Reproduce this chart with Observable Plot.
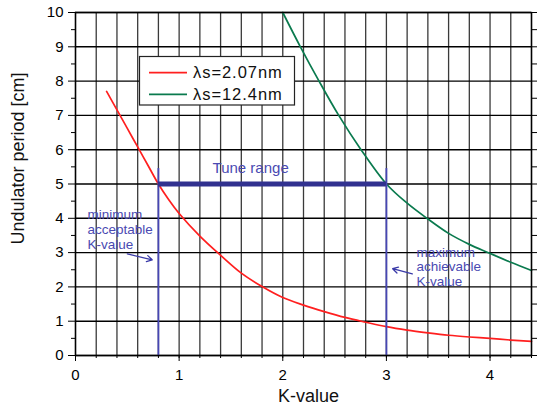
<!DOCTYPE html>
<html><head><meta charset="utf-8">
<script src="https://cdn.jsdelivr.net/npm/d3@7"></script>
<script src="https://cdn.jsdelivr.net/npm/@observablehq/plot@0.6"></script>
<style>
body{margin:0;background:#fff;}
svg{font-family:"Liberation Sans",Arial,Helvetica,sans-serif;}
</style>
</head><body><div id="chart"></div>
<script>
// ---- data ----
const redK = [0.3,0.4,0.5,0.6,0.7,0.8,0.9,1.0,1.2,1.4,1.6,1.8,2.0,2.2,2.4,2.6,2.8,3.0,3.2,3.4,3.6,3.8,4.0,4.2,4.4];
const redPeriod = [7.7,7.16,6.62,6.08,5.54,5.0,4.54,4.14,3.48,2.92,2.40,2.01,1.69,1.47,1.28,1.11,0.97,0.84,0.74,0.66,0.59,0.54,0.50,0.45,0.41];
const greenK = [2.0,2.17,2.35,2.54,2.755,3.0,3.2,3.4,3.6,3.8,3.99,4.2,4.4];
const greenPeriod = [10.0,9.0,8.0,7.0,6.0,5.0,4.44,3.98,3.56,3.24,2.99,2.72,2.48];
const seriesNames = ["\u03bbs=2.07nm","\u03bbs=12.4nm"];
const seriesColors = ["#ff1f1f","#0a7a4e"];

const xMajorTicks = [0,1,2,3,4];
const xMinorTicks = [0,0.2,0.4,0.6,0.8,1,1.2,1.4,1.6,1.8,2,2.2,2.4,2.6,2.8,3,3.2,3.4,3.6,3.8,4,4.2,4.4];
const yMajorTicks = [0,1,2,3,4,5,6,7,8,9,10];
const yMinorTicks = [0.5,1.5,2.5,3.5,4.5,5.5,6.5,7.5,8.5,9.5];
const yRightTicks = [0,0.5,1,1.5,2,2.5,3,3.5,4,4.5,5,5.5,6,6.5,7,7.5,8,8.5,9,9.5,10];

// tune range annotation
const tuneK = [0.8, 3.0];
const tunePeriod = 5;
const markerTop = 5.45;
const tuneLabel = {k: 1.69, v: 5.45, text: "Tune range"};
const notes = [
  {k: 0.115, v: 4.28, text: "minimum\nacceptable\nK-value"},
  {k: 3.29, v: 3.19, text: "maximum\nachievable\nK-value"}
];
const arrows = [
  {k1: 0.50, v1: 2.96, k2: 0.74, v2: 2.79},
  {k1: 3.25, v1: 2.38, k2: 3.06, v2: 2.53}
];

const red = redK.map((k,i)=>({k, v: redPeriod[i]}));
const green = greenK.map((k,i)=>({k, v: greenPeriod[i]}));
const blank = () => "";
const annColor = "#4a4ab2";

const plot = Plot.plot({
  width: 539, height: 406,
  marginLeft: 75, marginRight: 8, marginTop: 12, marginBottom: 51,
  x: {domain: [0, 4.4]},
  y: {domain: [0, 10]},
  style: {fontFamily: '"Liberation Sans", Arial, sans-serif', fontSize: "15px", background: "white", color: "black"},
  marks: [
    Plot.gridX(xMinorTicks, {stroke: "#3a3a3a", strokeOpacity: 1, strokeWidth: 1.3}),
    Plot.gridY(yMajorTicks, {stroke: "#000", strokeOpacity: 1, strokeWidth: 1.4}),
    Plot.axisX({ticks: xMajorTicks, tickSize: 6, tickPadding: 8, fontSize: 15, label: null, tickFormat: d => String(d)}),
    Plot.axisX({ticks: xMinorTicks, tickSize: 3, label: null, tickFormat: blank}),
    Plot.axisY({ticks: yMajorTicks, tickSize: 7, tickPadding: 5, fontSize: 15, label: null, tickFormat: d => String(d)}),
    Plot.axisY({ticks: yMinorTicks, tickSize: 4, label: null, tickFormat: blank}),
    Plot.axisY({anchor: "right", ticks: yRightTicks, tickSize: 5, label: null, tickFormat: blank}),
    Plot.line(red, {x: "k", y: "v", stroke: seriesColors[0], strokeWidth: 1.7, curve: "catmull-rom"}),
    Plot.line(green, {x: "k", y: "v", stroke: seriesColors[1], strokeWidth: 1.7, curve: "catmull-rom"}),
    Plot.ruleX(tuneK, {y1: 0, y2: markerTop, stroke: "#4646b4", strokeWidth: 1.8}),
    Plot.ruleY([tunePeriod], {x1: tuneK[0], x2: tuneK[1], stroke: "#31318f", strokeWidth: 5}),
    Plot.text([tuneLabel], {x: "k", y: "v", text: "text", fill: annColor, fontSize: 15, textAnchor: "middle", lineAnchor: "middle"}),
    Plot.text(notes, {x: "k", y: "v", text: "text", fill: annColor, fontSize: 13.5, textAnchor: "start", lineAnchor: "top", lineHeight: 1.09}),
    Plot.arrow(arrows, {x1: "k1", y1: "v1", x2: "k2", y2: "v2", stroke: "#3a3aa8", strokeWidth: 1.3, headLength: 7}),
    Plot.frame({stroke: "#000", strokeWidth: 1.4}),
    Plot.text(["K-value"], {frameAnchor: "bottom", dx: 5, dy: 41, fontSize: 18, fill: "#111", textAnchor: "middle", lineAnchor: "middle"}),
    Plot.text(["Undulator period [cm]"], {frameAnchor: "left", dx: -57.5, dy: -25.5, rotate: -90, fontSize: 18, fill: "#111", textAnchor: "middle", lineAnchor: "middle"})
  ]
});

document.getElementById("chart").appendChild(plot);

// legend box inside the plot
const svg = d3.select(plot);
const lg = svg.append("g").attr("aria-label", "legend").attr("text-anchor", "start");
lg.append("rect").attr("x", 139.5).attr("y", 56.5).attr("width", 155).attr("height", 48.5)
  .attr("fill", "white").attr("stroke", "#222").attr("stroke-width", 1.2);
seriesNames.forEach((name, i) => {
  const cy = 72.7 + i * 21.6;
  lg.append("line").attr("x1", 149).attr("x2", 187).attr("y1", cy).attr("y2", cy)
    .attr("stroke", seriesColors[i]).attr("stroke-width", 1.7);
  lg.append("text").attr("x", 193).attr("y", cy).attr("dy", "0.35em").attr("text-anchor", "start")
    .attr("font-size", 16.5).attr("letter-spacing", "0.95px").attr("fill", "#111").text(name);
});
</script>
</body></html>
